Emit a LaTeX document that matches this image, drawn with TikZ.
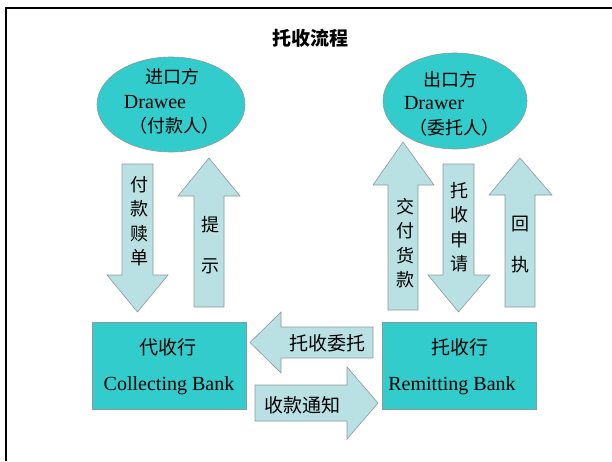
\documentclass[tikz,border=0pt]{standalone}
\usepackage{fontspec}
\setmainfont{Liberation Serif}
\newfontfamily\cjk{Noto Sans CJK SC}
\usetikzlibrary{shapes.geometric}
\definecolor{teal1}{HTML}{33CCCC}
\definecolor{arrowfill}{HTML}{B9E0E3}
\definecolor{edgegray}{HTML}{8C9A9A}
\tikzset{
  party/.style={ellipse, draw=edgegray, fill=teal1, line width=0.6pt},
  bank/.style={rectangle, draw=edgegray, fill=teal1, line width=0.6pt},
  blockarrow/.style={draw=edgegray, fill=arrowfill, line width=0.6pt, line join=miter},
  cjktext/.style={font=\cjk\fontsize{18}{18}\selectfont, inner sep=0pt},
  lattext/.style={font=\fontsize{20}{20}\selectfont, inner sep=0pt},
  vtext/.style={font=\cjk\fontsize{18}{24.5}\selectfont, align=center, inner sep=0pt},
}
\begin{document}
\begin{tikzpicture}[x=1pt,y=-1pt]
\useasboundingbox (0,0) rectangle (612,461);
% frame
\draw[line width=2pt] (6,461) -- (6,7.5) -- (612,7.5);
% title
\node (title) [font=\cjk\bfseries\fontsize{19}{19}\selectfont, inner sep=0pt] at (310,38) {托收流程};
% parties
\node (drawee) [party, minimum width=148pt, minimum height=95pt] at (171,104.5) {};
\node (drawer) [party, minimum width=144pt, minimum height=96pt] at (455,101) {};
\node (t1) [cjktext] at (172,77) {进口方};
\node (t2) [lattext] at (155,102) {Drawee};
\node (t3) [cjktext] at (174,126) {（付款人）};
\node (t4) [cjktext] at (450,80) {出口方};
\node (t5) [lattext] at (434,103) {Drawer};
\node (t6) [cjktext] at (454,128) {（委托人）};
% banks
\node (collecting) [bank, minimum width=154pt, minimum height=87pt] at (169,365.5) {};
\node (remitting) [bank, minimum width=154pt, minimum height=87pt] at (459,365.5) {};
\node (b1) [cjktext, font=\cjk\fontsize{19}{19}\selectfont] at (168,347) {代收行};
\node (b2) [lattext] at (169,386) {Collecting Bank};
\node (b3) [cjktext, font=\cjk\fontsize{19}{19}\selectfont] at (460,347) {托收行};
\node (b4) [lattext] at (452,386) {Remitting Bank};
% vertical arrows
\draw[blockarrow] (122,164) -- (153,164) -- (153,275) -- (168,275) -- (137.5,312) -- (107,275) -- (122,275) -- cycle;
\draw[blockarrow] (194,307) -- (224,307) -- (224,196) -- (240,196) -- (209,158) -- (178,196) -- (194,196) -- cycle;
\draw[blockarrow] (388,310) -- (418,310) -- (418,185) -- (434,185) -- (403,142) -- (373,185) -- (388,185) -- cycle;
\draw[blockarrow] (443,164) -- (474,164) -- (474,275) -- (490,275) -- (458.5,312) -- (428,275) -- (443,275) -- cycle;
\draw[blockarrow] (505,307) -- (535,307) -- (535,195) -- (552,195) -- (520,158) -- (489,195) -- (505,195) -- cycle;
% horizontal arrows
\draw[blockarrow] (373,327) -- (373,358) -- (281,358) -- (281,373) -- (250,342.5) -- (281,312) -- (281,327) -- cycle;
\draw[blockarrow] (255,385) -- (347,385) -- (347,367) -- (378,403) -- (347,439) -- (347,421) -- (255,421) -- cycle;
% arrow labels
\node (l1) [vtext, anchor=north] at (139,176) {付\\款\\赎\\单};
\node (l2) [vtext, anchor=north] at (210,216) {提\\\\[-8pt]示};
\node (l3) [vtext, anchor=north] at (405,198) {交\\付\\货\\款};
\node (l4) [vtext, anchor=north] at (459,182) {托\\收\\申\\请};
\node (l5) [vtext, anchor=north] at (520,216) {回\\\\[-8pt]执};
\node (l6) [cjktext, font=\cjk\fontsize{19}{19}\selectfont] at (327,343) {托收委托};
\node (l7) [cjktext, font=\cjk\fontsize{19}{19}\selectfont] at (302,405) {收款通知};
\end{tikzpicture}
\end{document}
